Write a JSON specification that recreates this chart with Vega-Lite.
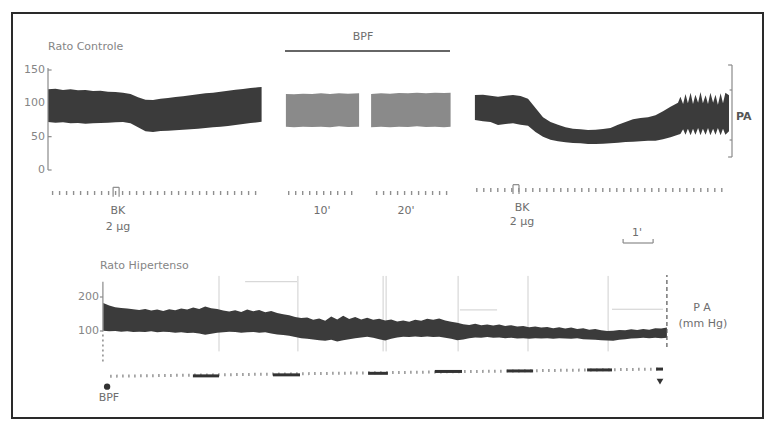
{
  "$schema": "https://vega.github.io/schema/vega-lite/v6.json",
  "width": 751,
  "height": 405,
  "autosize": {"type": "none"},
  "padding": {"left": 12, "top": 13, "right": 2, "bottom": 3},
  "background": "white",
  "config": {
    "view": {"stroke": "#2a2a2a", "strokeWidth": 2},
    "text": {"font": "DejaVu Sans"}
  },
  "datasets": {
    "controle": [
      {"seg": "BK1", "t": 0.0, "hi": 121, "lo": 72},
      {"seg": "BK1", "t": 0.25, "hi": 122, "lo": 71},
      {"seg": "BK1", "t": 0.5, "hi": 120, "lo": 71.5},
      {"seg": "BK1", "t": 0.75, "hi": 121, "lo": 70},
      {"seg": "BK1", "t": 1.0, "hi": 119.5, "lo": 70.5},
      {"seg": "BK1", "t": 1.25, "hi": 120, "lo": 69.5},
      {"seg": "BK1", "t": 1.5, "hi": 118.5, "lo": 70},
      {"seg": "BK1", "t": 1.75, "hi": 119, "lo": 70.5},
      {"seg": "BK1", "t": 2.0, "hi": 117.5, "lo": 71},
      {"seg": "BK1", "t": 2.25, "hi": 117, "lo": 71.5},
      {"seg": "BK1", "t": 2.5, "hi": 116, "lo": 72},
      {"seg": "BK1", "t": 2.75, "hi": 114, "lo": 70},
      {"seg": "BK1", "t": 3.0, "hi": 109, "lo": 64},
      {"seg": "BK1", "t": 3.25, "hi": 105.5, "lo": 58},
      {"seg": "BK1", "t": 3.5, "hi": 105, "lo": 57},
      {"seg": "BK1", "t": 3.75, "hi": 107, "lo": 58.5},
      {"seg": "BK1", "t": 4.0, "hi": 108, "lo": 59},
      {"seg": "BK1", "t": 4.25, "hi": 109.5, "lo": 59.5},
      {"seg": "BK1", "t": 4.5, "hi": 110.5, "lo": 60.5},
      {"seg": "BK1", "t": 4.75, "hi": 112, "lo": 61},
      {"seg": "BK1", "t": 5.0, "hi": 113.5, "lo": 62},
      {"seg": "BK1", "t": 5.25, "hi": 115, "lo": 63},
      {"seg": "BK1", "t": 5.5, "hi": 116, "lo": 64},
      {"seg": "BK1", "t": 5.75, "hi": 117.5, "lo": 65},
      {"seg": "BK1", "t": 6.0, "hi": 119, "lo": 66},
      {"seg": "BK1", "t": 6.25, "hi": 120.5, "lo": 67.5},
      {"seg": "BK1", "t": 6.5, "hi": 121.5, "lo": 69},
      {"seg": "BK1", "t": 6.75, "hi": 123, "lo": 70.5},
      {"seg": "BK1", "t": 7.0, "hi": 124, "lo": 71.5},
      {"seg": "BK1", "t": 7.12, "hi": 124.5, "lo": 72.5},
      {"seg": "BPF10", "t": 7.93, "hi": 114, "lo": 65},
      {"seg": "BPF10", "t": 8.2, "hi": 113.5, "lo": 64},
      {"seg": "BPF10", "t": 8.5, "hi": 114.5, "lo": 65},
      {"seg": "BPF10", "t": 8.8, "hi": 114, "lo": 64.5},
      {"seg": "BPF10", "t": 9.1, "hi": 115, "lo": 65},
      {"seg": "BPF10", "t": 9.4, "hi": 114, "lo": 64},
      {"seg": "BPF10", "t": 9.7, "hi": 115, "lo": 65.5},
      {"seg": "BPF10", "t": 10.0, "hi": 114.5, "lo": 64.5},
      {"seg": "BPF10", "t": 10.37, "hi": 115, "lo": 65},
      {"seg": "BPF20", "t": 10.77, "hi": 114, "lo": 64},
      {"seg": "BPF20", "t": 11.1, "hi": 115, "lo": 65},
      {"seg": "BPF20", "t": 11.4, "hi": 114.5, "lo": 64},
      {"seg": "BPF20", "t": 11.7, "hi": 115.5, "lo": 65},
      {"seg": "BPF20", "t": 12.0, "hi": 115, "lo": 64.5},
      {"seg": "BPF20", "t": 12.3, "hi": 116, "lo": 65.5},
      {"seg": "BPF20", "t": 12.6, "hi": 115, "lo": 64.5},
      {"seg": "BPF20", "t": 12.9, "hi": 116, "lo": 65},
      {"seg": "BPF20", "t": 13.2, "hi": 115.5, "lo": 64},
      {"seg": "BPF20", "t": 13.42, "hi": 116, "lo": 65},
      {"seg": "BK2", "t": 14.23, "hi": 112.5, "lo": 75},
      {"seg": "BK2", "t": 14.5, "hi": 113, "lo": 73},
      {"seg": "BK2", "t": 14.75, "hi": 111.5, "lo": 72},
      {"seg": "BK2", "t": 15.0, "hi": 110, "lo": 67.5},
      {"seg": "BK2", "t": 15.25, "hi": 111.5, "lo": 69},
      {"seg": "BK2", "t": 15.5, "hi": 112.5, "lo": 70},
      {"seg": "BK2", "t": 15.75, "hi": 111, "lo": 68},
      {"seg": "BK2", "t": 16.0, "hi": 107, "lo": 66.5},
      {"seg": "BK2", "t": 16.25, "hi": 93, "lo": 57},
      {"seg": "BK2", "t": 16.5, "hi": 79, "lo": 50},
      {"seg": "BK2", "t": 16.75, "hi": 72, "lo": 45.5},
      {"seg": "BK2", "t": 17.0, "hi": 68, "lo": 43},
      {"seg": "BK2", "t": 17.25, "hi": 64, "lo": 41.5},
      {"seg": "BK2", "t": 17.5, "hi": 62, "lo": 40.5},
      {"seg": "BK2", "t": 17.75, "hi": 61, "lo": 40},
      {"seg": "BK2", "t": 18.0, "hi": 60, "lo": 39},
      {"seg": "BK2", "t": 18.25, "hi": 60.5, "lo": 39},
      {"seg": "BK2", "t": 18.5, "hi": 61.5, "lo": 39.5},
      {"seg": "BK2", "t": 18.75, "hi": 63, "lo": 40},
      {"seg": "BK2", "t": 19.0, "hi": 68, "lo": 41},
      {"seg": "BK2", "t": 19.25, "hi": 72, "lo": 42},
      {"seg": "BK2", "t": 19.5, "hi": 76, "lo": 42.5},
      {"seg": "BK2", "t": 19.75, "hi": 78, "lo": 43},
      {"seg": "BK2", "t": 20.0, "hi": 79, "lo": 44},
      {"seg": "BK2", "t": 20.25, "hi": 82, "lo": 44},
      {"seg": "BK2", "t": 20.5, "hi": 88, "lo": 46},
      {"seg": "BK2", "t": 20.75, "hi": 95, "lo": 49},
      {"seg": "BK2", "t": 21.0, "hi": 101, "lo": 53},
      {"seg": "BK2", "t": 21.08, "hi": 110, "lo": 54},
      {"seg": "BK2", "t": 21.17, "hi": 99, "lo": 61},
      {"seg": "BK2", "t": 21.25, "hi": 114, "lo": 53},
      {"seg": "BK2", "t": 21.33, "hi": 100, "lo": 62},
      {"seg": "BK2", "t": 21.42, "hi": 116, "lo": 52},
      {"seg": "BK2", "t": 21.5, "hi": 99, "lo": 62},
      {"seg": "BK2", "t": 21.58, "hi": 113, "lo": 53},
      {"seg": "BK2", "t": 21.67, "hi": 101, "lo": 63},
      {"seg": "BK2", "t": 21.75, "hi": 117, "lo": 52},
      {"seg": "BK2", "t": 21.83, "hi": 100, "lo": 62},
      {"seg": "BK2", "t": 21.92, "hi": 112, "lo": 53},
      {"seg": "BK2", "t": 22.0, "hi": 99, "lo": 63},
      {"seg": "BK2", "t": 22.08, "hi": 116, "lo": 52},
      {"seg": "BK2", "t": 22.17, "hi": 101, "lo": 62},
      {"seg": "BK2", "t": 22.25, "hi": 113, "lo": 53},
      {"seg": "BK2", "t": 22.33, "hi": 98, "lo": 63},
      {"seg": "BK2", "t": 22.42, "hi": 115, "lo": 52},
      {"seg": "BK2", "t": 22.5, "hi": 100, "lo": 62},
      {"seg": "BK2", "t": 22.58, "hi": 116, "lo": 53},
      {"seg": "BK2", "t": 22.7, "hi": 112, "lo": 58}
    ],
    "hipertenso": [
      {"t": 1.84, "hi": 182, "lo": 101},
      {"t": 2.04, "hi": 175, "lo": 99},
      {"t": 2.24, "hi": 170, "lo": 100},
      {"t": 2.44, "hi": 168, "lo": 98},
      {"t": 2.64, "hi": 166, "lo": 99},
      {"t": 2.84, "hi": 164, "lo": 97},
      {"t": 3.04, "hi": 162, "lo": 98},
      {"t": 3.24, "hi": 165, "lo": 97},
      {"t": 3.44, "hi": 160, "lo": 99},
      {"t": 3.64, "hi": 163, "lo": 96},
      {"t": 3.84, "hi": 159, "lo": 98},
      {"t": 4.04, "hi": 164, "lo": 97},
      {"t": 4.24, "hi": 161, "lo": 95},
      {"t": 4.44, "hi": 166, "lo": 96},
      {"t": 4.64, "hi": 163, "lo": 94},
      {"t": 4.84, "hi": 169, "lo": 95},
      {"t": 5.04, "hi": 165, "lo": 93},
      {"t": 5.24, "hi": 172, "lo": 89},
      {"t": 5.44, "hi": 167, "lo": 92},
      {"t": 5.64, "hi": 165, "lo": 95},
      {"t": 5.84, "hi": 160, "lo": 96},
      {"t": 6.04, "hi": 157, "lo": 98},
      {"t": 6.24, "hi": 161, "lo": 97},
      {"t": 6.44, "hi": 156, "lo": 95},
      {"t": 6.64, "hi": 163, "lo": 96},
      {"t": 6.84, "hi": 158, "lo": 97},
      {"t": 7.04, "hi": 162, "lo": 95},
      {"t": 7.24, "hi": 155, "lo": 96},
      {"t": 7.44, "hi": 159, "lo": 93},
      {"t": 7.64, "hi": 153, "lo": 90},
      {"t": 7.84, "hi": 149, "lo": 88},
      {"t": 8.04, "hi": 146, "lo": 86},
      {"t": 8.24, "hi": 141, "lo": 82},
      {"t": 8.44, "hi": 138, "lo": 79},
      {"t": 8.64, "hi": 140, "lo": 77},
      {"t": 8.84, "hi": 133, "lo": 75},
      {"t": 9.04, "hi": 137, "lo": 73},
      {"t": 9.24, "hi": 130, "lo": 71},
      {"t": 9.44, "hi": 143, "lo": 74},
      {"t": 9.64, "hi": 134, "lo": 69},
      {"t": 9.84, "hi": 145, "lo": 73},
      {"t": 10.04, "hi": 135, "lo": 76},
      {"t": 10.24, "hi": 141, "lo": 79},
      {"t": 10.44, "hi": 134, "lo": 81},
      {"t": 10.64, "hi": 139, "lo": 83},
      {"t": 10.84, "hi": 133, "lo": 80},
      {"t": 11.04, "hi": 136, "lo": 76},
      {"t": 11.24, "hi": 131, "lo": 72},
      {"t": 11.44, "hi": 134, "lo": 77},
      {"t": 11.64, "hi": 128, "lo": 81},
      {"t": 11.84, "hi": 131, "lo": 83},
      {"t": 12.04, "hi": 127, "lo": 82},
      {"t": 12.24, "hi": 133, "lo": 84},
      {"t": 12.44, "hi": 130, "lo": 82},
      {"t": 12.64, "hi": 136, "lo": 84},
      {"t": 12.84, "hi": 133, "lo": 82},
      {"t": 13.04, "hi": 137, "lo": 83},
      {"t": 13.24, "hi": 131, "lo": 80},
      {"t": 13.44, "hi": 127, "lo": 77},
      {"t": 13.64, "hi": 124, "lo": 73},
      {"t": 13.84, "hi": 120, "lo": 75},
      {"t": 14.04, "hi": 118, "lo": 79},
      {"t": 14.24, "hi": 121, "lo": 81},
      {"t": 14.44, "hi": 117, "lo": 80},
      {"t": 14.64, "hi": 119, "lo": 82},
      {"t": 14.84, "hi": 116, "lo": 80},
      {"t": 15.04, "hi": 119, "lo": 81},
      {"t": 15.24, "hi": 115, "lo": 79},
      {"t": 15.44, "hi": 117, "lo": 80},
      {"t": 15.64, "hi": 113, "lo": 78},
      {"t": 15.84, "hi": 115, "lo": 79},
      {"t": 16.04, "hi": 111, "lo": 77},
      {"t": 16.24, "hi": 113, "lo": 79},
      {"t": 16.44, "hi": 110, "lo": 78},
      {"t": 16.64, "hi": 112, "lo": 79},
      {"t": 16.84, "hi": 108, "lo": 77},
      {"t": 17.04, "hi": 111, "lo": 79},
      {"t": 17.24, "hi": 107, "lo": 78},
      {"t": 17.44, "hi": 110, "lo": 77},
      {"t": 17.64, "hi": 106, "lo": 79},
      {"t": 17.84, "hi": 108, "lo": 76},
      {"t": 18.04, "hi": 104, "lo": 75},
      {"t": 18.24, "hi": 106, "lo": 74},
      {"t": 18.44, "hi": 102, "lo": 73},
      {"t": 18.64, "hi": 100, "lo": 72},
      {"t": 18.84, "hi": 101, "lo": 71},
      {"t": 19.04, "hi": 103, "lo": 74},
      {"t": 19.24, "hi": 102, "lo": 76},
      {"t": 19.44, "hi": 105, "lo": 78},
      {"t": 19.64, "hi": 103, "lo": 79},
      {"t": 19.84, "hi": 106, "lo": 80},
      {"t": 20.04, "hi": 104, "lo": 79},
      {"t": 20.24, "hi": 108, "lo": 80},
      {"t": 20.44, "hi": 107, "lo": 79},
      {"t": 20.63, "hi": 110, "lo": 80}
    ]
  },
  "layer": [
    {
      "layer": [
        {
          "data": {"name": "controle"},
          "mark": {"type": "area", "interpolate": "linear"},
          "encoding": {
            "x": {"field": "t", "type": "quantitative", "scale": {"domain": [-1.2, 23.8333], "nice": false, "zero": false}, "axis": null},
            "y": {"field": "hi", "type": "quantitative", "scale": {"domain": [-372, 235.5], "nice": false, "zero": false}, "axis": null},
            "y2": {"field": "lo"},
            "detail": {"field": "seg"},
            "color": {"field": "seg", "type": "nominal", "scale": {"domain": ["BK1", "BPF10", "BPF20", "BK2"], "range": ["#3b3b3b", "#8a8a8a", "#8a8a8a", "#3b3b3b"]}, "legend": null}
          }
        },
        {
          "data": {"values": [
            {"t": 0, "t2": 0, "v": 0, "v2": 153},
            {"t": 0, "t2": 0.12, "v": 0, "v2": 0},
            {"t": 0, "t2": 0.12, "v": 50, "v2": 50},
            {"t": 0, "t2": 0.12, "v": 150, "v2": 150},
            {"t": 22.8, "t2": 22.8, "v": 19.5, "v2": 157.5},
            {"t": 22.67, "t2": 22.8, "v": 157.5, "v2": 157.5},
            {"t": 22.67, "t2": 22.8, "v": 19.5, "v2": 19.5},
            {"t": 22.72, "t2": 22.8, "v": 120, "v2": 120},
            {"t": 22.72, "t2": 22.8, "v": 45, "v2": 45},
            {"t": 19.17, "t2": 20.17, "v": -109.5, "v2": -109.5},
            {"t": 19.17, "t2": 19.17, "v": -109.5, "v2": -103.5},
            {"t": 20.17, "t2": 20.17, "v": -109.5, "v2": -103.5},
            {"t": 2.17, "t2": 2.17, "v": -26, "v2": -40},
            {"t": 2.37, "t2": 2.37, "v": -26, "v2": -40},
            {"t": 2.17, "t2": 2.37, "v": -26, "v2": -26},
            {"t": 15.5, "t2": 15.5, "v": -22, "v2": -36},
            {"t": 15.7, "t2": 15.7, "v": -22, "v2": -36},
            {"t": 15.5, "t2": 15.7, "v": -22, "v2": -22}
          ]},
          "mark": {"type": "rule", "color": "#8a8a8a", "strokeWidth": 1.2},
          "encoding": {
            "x": {"field": "t", "type": "quantitative"},
            "x2": {"field": "t2"},
            "y": {"field": "v", "type": "quantitative"},
            "y2": {"field": "v2"}
          }
        },
        {
          "data": {"values": [
            {"t": 7.9, "t2": 13.4, "v": 178.5, "v2": 178.5}
          ]},
          "mark": {"type": "rule", "color": "#333333", "strokeWidth": 1.6},
          "encoding": {
            "x": {"field": "t", "type": "quantitative"},
            "x2": {"field": "t2"},
            "y": {"field": "v", "type": "quantitative"},
            "y2": {"field": "v2"}
          }
        },
        {
          "data": {"values": [
            {"t": 0.13, "t2": 7.07, "v": -34.5, "v2": -34.5},
            {"t": 8.0, "t2": 10.33, "v": -34.5, "v2": -34.5},
            {"t": 10.93, "t2": 13.33, "v": -34.5, "v2": -34.5},
            {"t": 14.27, "t2": 22.63, "v": -30, "v2": -30}
          ]},
          "mark": {"type": "rule", "color": "#8f8f8f", "strokeWidth": 4, "strokeDash": [1.4, 5.6]},
          "encoding": {
            "x": {"field": "t", "type": "quantitative"},
            "x2": {"field": "t2"},
            "y": {"field": "v", "type": "quantitative"},
            "y2": {"field": "v2"}
          }
        },
        {
          "data": {"values": [
            {"t": 0, "v": 184.5, "txt": "Rato Controle"}
          ]},
          "mark": {"type": "text", "align": "left", "baseline": "middle", "fontSize": 11, "color": "#858585"},
          "encoding": {
            "x": {"field": "t", "type": "quantitative"},
            "y": {"field": "v", "type": "quantitative"},
            "text": {"field": "txt"}
          }
        },
        {
          "data": {"values": [
            {"t": -0.1, "v": 150, "txt": "150"},
            {"t": -0.1, "v": 100, "txt": "100"},
            {"t": -0.1, "v": 50, "txt": "50"},
            {"t": -0.1, "v": 0, "txt": "0"}
          ]},
          "mark": {"type": "text", "align": "right", "baseline": "middle", "fontSize": 11, "color": "#858585"},
          "encoding": {
            "x": {"field": "t", "type": "quantitative"},
            "y": {"field": "v", "type": "quantitative"},
            "text": {"field": "txt"}
          }
        },
        {
          "data": {"values": [
            {"t": 10.5, "v": 199.5, "txt": "BPF"},
            {"t": 2.33, "v": -61.5, "txt": "BK"},
            {"t": 2.33, "v": -85.5, "txt": "2 μg"},
            {"t": 9.13, "v": -61.5, "txt": "10'"},
            {"t": 11.93, "v": -61.5, "txt": "20'"},
            {"t": 15.8, "v": -57, "txt": "BK"},
            {"t": 15.8, "v": -78, "txt": "2 μg"},
            {"t": 19.63, "v": -94.5, "txt": "1'"}
          ]},
          "mark": {"type": "text", "align": "center", "baseline": "middle", "fontSize": 11, "color": "#6e6e6e"},
          "encoding": {
            "x": {"field": "t", "type": "quantitative"},
            "y": {"field": "v", "type": "quantitative"},
            "text": {"field": "txt"}
          }
        },
        {
          "data": {"values": [
            {"t": 22.93, "v": 79.5, "txt": "PA"}
          ]},
          "mark": {"type": "text", "align": "left", "baseline": "middle", "fontSize": 11, "fontWeight": "bold", "color": "#555555"},
          "encoding": {
            "x": {"field": "t", "type": "quantitative"},
            "y": {"field": "v", "type": "quantitative"},
            "text": {"field": "txt"}
          }
        }
      ]
    },
    {
      "layer": [
        {
          "data": {"values": [
            {"t": 5.7, "t2": 5.7, "v": 40, "v2": 262},
            {"t": 8.33, "t2": 8.33, "v": 40, "v2": 262},
            {"t": 11.17, "t2": 11.17, "v": 40, "v2": 262},
            {"t": 11.27, "t2": 11.27, "v": 40, "v2": 262},
            {"t": 13.67, "t2": 13.67, "v": 40, "v2": 262},
            {"t": 16.0, "t2": 16.0, "v": 40, "v2": 262},
            {"t": 18.67, "t2": 18.67, "v": 40, "v2": 262},
            {"t": 6.57, "t2": 8.3, "v": 245, "v2": 245},
            {"t": 13.73, "t2": 14.97, "v": 162, "v2": 162},
            {"t": 18.8, "t2": 20.5, "v": 164, "v2": 164}
          ]},
          "mark": {"type": "rule", "color": "#cfcfcf", "strokeWidth": 1},
          "encoding": {
            "x": {"field": "t", "type": "quantitative", "scale": {"domain": [-1.2, 23.8333], "nice": false, "zero": false}, "axis": null},
            "x2": {"field": "t2"},
            "y": {"field": "v", "type": "quantitative", "scale": {"domain": [-155.9, 1035.3], "nice": false, "zero": false}, "axis": null},
            "y2": {"field": "v2"}
          }
        },
        {
          "data": {"name": "hipertenso"},
          "mark": {"type": "area", "interpolate": "linear", "color": "#3b3b3b"},
          "encoding": {
            "x": {"field": "t", "type": "quantitative"},
            "y": {"field": "hi", "type": "quantitative"},
            "y2": {"field": "lo"}
          }
        },
        {
          "data": {"values": [
            {"t": 1.83, "t2": 1.83, "v": 100, "v2": 245},
            {"t": 1.73, "t2": 1.83, "v": 200, "v2": 200},
            {"t": 1.73, "t2": 1.83, "v": 100, "v2": 100}
          ]},
          "mark": {"type": "rule", "color": "#8a8a8a", "strokeWidth": 1.2},
          "encoding": {
            "x": {"field": "t", "type": "quantitative"},
            "x2": {"field": "t2"},
            "y": {"field": "v", "type": "quantitative"},
            "y2": {"field": "v2"}
          }
        },
        {
          "data": {"values": [
            {"t": 1.83, "t2": 1.83, "v": 10, "v2": 100}
          ]},
          "mark": {"type": "rule", "color": "#8a8a8a", "strokeWidth": 1.5, "strokeDash": [2, 3]},
          "encoding": {
            "x": {"field": "t", "type": "quantitative"},
            "x2": {"field": "t2"},
            "y": {"field": "v", "type": "quantitative"},
            "y2": {"field": "v2"}
          }
        },
        {
          "data": {"values": [
            {"t": 20.63, "t2": 20.63, "v": 53, "v2": 265}
          ]},
          "mark": {"type": "rule", "color": "#555555", "strokeWidth": 1.2, "strokeDash": [4, 3]},
          "encoding": {
            "x": {"field": "t", "type": "quantitative"},
            "x2": {"field": "t2"},
            "y": {"field": "v", "type": "quantitative"},
            "y2": {"field": "v2"}
          }
        },
        {
          "data": {"values": [
            {"t": 2.07, "t2": 20.4, "v": -33, "v2": -12}
          ]},
          "mark": {"type": "rule", "color": "#9a9a9a", "strokeWidth": 3, "strokeDash": [1.6, 4.4]},
          "encoding": {
            "x": {"field": "t", "type": "quantitative"},
            "x2": {"field": "t2"},
            "y": {"field": "v", "type": "quantitative"},
            "y2": {"field": "v2"}
          }
        },
        {
          "data": {"values": [
            {"t": 4.83, "t2": 5.7, "v": -32, "v2": -32},
            {"t": 7.5, "t2": 8.4, "v": -29, "v2": -29},
            {"t": 10.67, "t2": 11.33, "v": -24.5, "v2": -24.5},
            {"t": 12.9, "t2": 13.8, "v": -19, "v2": -19},
            {"t": 15.3, "t2": 16.17, "v": -17.5, "v2": -17.5},
            {"t": 17.97, "t2": 18.8, "v": -14.5, "v2": -14.5},
            {"t": 20.27, "t2": 20.5, "v": -12, "v2": -12}
          ]},
          "mark": {"type": "rule", "color": "#333333", "strokeWidth": 3},
          "encoding": {
            "x": {"field": "t", "type": "quantitative"},
            "x2": {"field": "t2"},
            "y": {"field": "v", "type": "quantitative"},
            "y2": {"field": "v2"}
          }
        },
        {
          "data": {"values": [
            {"t": 20.4, "v": -49, "kind": "fim"}
          ]},
          "mark": {"type": "point", "shape": "triangle-down", "filled": true, "color": "#333333", "size": 45, "opacity": 1},
          "encoding": {
            "x": {"field": "t", "type": "quantitative"},
            "y": {"field": "v", "type": "quantitative"}
          }
        },
        {
          "data": {"values": [
            {"t": 1.97, "v": -63.8, "kind": "BPF"}
          ]},
          "mark": {"type": "point", "shape": "circle", "filled": true, "color": "#333333", "size": 40, "opacity": 1},
          "encoding": {
            "x": {"field": "t", "type": "quantitative"},
            "y": {"field": "v", "type": "quantitative"}
          }
        },
        {
          "data": {"values": [
            {"t": 1.73, "v": 291.2, "txt": "Rato Hipertenso"}
          ]},
          "mark": {"type": "text", "align": "left", "baseline": "middle", "fontSize": 11, "color": "#858585"},
          "encoding": {
            "x": {"field": "t", "type": "quantitative"},
            "y": {"field": "v", "type": "quantitative"},
            "text": {"field": "txt"}
          }
        },
        {
          "data": {"values": [
            {"t": 1.7, "v": 200, "txt": "200"},
            {"t": 1.7, "v": 100, "txt": "100"}
          ]},
          "mark": {"type": "text", "align": "right", "baseline": "middle", "fontSize": 11, "color": "#858585"},
          "encoding": {
            "x": {"field": "t", "type": "quantitative"},
            "y": {"field": "v", "type": "quantitative"},
            "text": {"field": "txt"}
          }
        },
        {
          "data": {"values": [
            {"t": 21.8, "v": 167.6, "txt": "P A"},
            {"t": 21.83, "v": 120.6, "txt": "(mm Hg)"},
            {"t": 2.03, "v": -97, "txt": "BPF"}
          ]},
          "mark": {"type": "text", "align": "center", "baseline": "middle", "fontSize": 11, "color": "#6e6e6e"},
          "encoding": {
            "x": {"field": "t", "type": "quantitative"},
            "y": {"field": "v", "type": "quantitative"},
            "text": {"field": "txt"}
          }
        }
      ]
    }
  ],
  "resolve": {"scale": {"y": "independent"}}
}
